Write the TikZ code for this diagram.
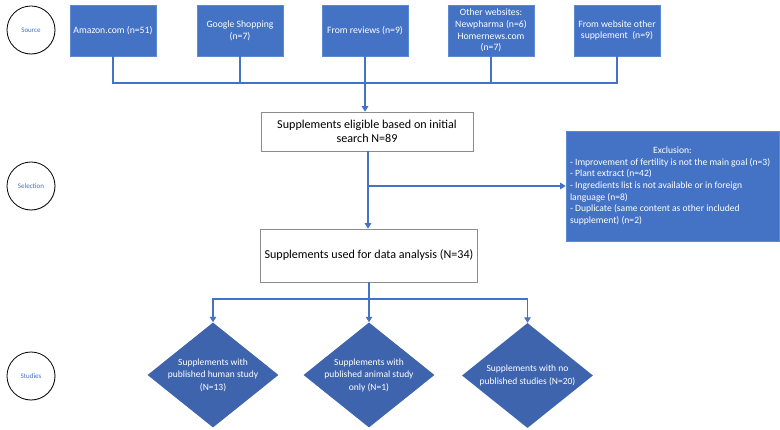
\documentclass[tikz,border=0pt]{standalone}
\usepackage{fontspec}
\setmainfont{Carlito}
\usetikzlibrary{arrows.meta,shapes.geometric,shadows}
\definecolor{obl}{HTML}{4472C4}
\definecolor{obd}{HTML}{3E64AE}
\definecolor{obe}{HTML}{5A8AD2}
\begin{document}
\begin{tikzpicture}[x=1pt,y=-1pt,
  stage/.style={circle,draw=black,line width=0.8pt,fill=white,minimum size=48pt,inner sep=0pt,
    text=obl,font=\fontsize{7}{8}\selectfont,
    drop shadow={opacity=0.25,shadow xshift=0.6pt,shadow yshift=-0.8pt}},
  srcbox/.style={rectangle,draw=obe,line width=0.6pt,fill=obl,text=white,minimum width=86pt,minimum height=51pt,
    align=center,inner sep=1pt,font=\fontsize{9.7}{11.7}\selectfont},
  wbox/.style={rectangle,draw=black!45,line width=0.6pt,fill=white,align=center,inner sep=1pt,
    font=\fontsize{12.1}{14}\selectfont},
  dia/.style={diamond,fill=obd,inner sep=0pt,minimum width=131pt,minimum height=105pt},
  dlab/.style={text=white,align=center,font=\fontsize{9.5}{12.5}\selectfont},
  conn/.style={draw=obl,line width=1.1pt},
  arr/.style={conn,-{Triangle[width=6.5pt,length=5.5pt]}}]
\useasboundingbox (0,0) rectangle (780,430);
% stage circles
\node[stage] (source) at (31,30) {Source};
\node[stage] (selection) at (31,186) {Selection};
\node[stage] (studies) at (31,376) {Studies};
% source boxes
\node[srcbox] (s1) at (113,30.5) {Amazon.com (n=51)};
\node[srcbox] (s2) at (240,30.5) {Google Shopping\\(n=7)};
\node[srcbox] (s3) at (365,30.5) {From reviews (n=9)};
\node[srcbox] (s4) at (491,30.5) {Other websites:\\Newpharma (n=6)\\Homernews.com\\(n=7)};
\node[srcbox] (s5) at (617,30.5) {From website other\\supplement\ \ (n=9)};
% main boxes
\node[wbox,minimum width=212pt,minimum height=39pt] (elig) at (367,131.5) {Supplements eligible based on initial\\search N=89};
\node[wbox,minimum width=217pt,minimum height=53pt] (anal) at (369,255.5) {Supplements used for data analysis (N=34)};
\node[rectangle,draw=obe,line width=0.6pt,fill=obl,text=white,minimum width=213pt,minimum height=110pt,
  inner sep=3pt,font=\fontsize{9.6}{11.7}\selectfont] (excl) at (672.5,186)
  {\begin{minipage}{205pt}\centering Exclusion:\par\raggedright
  - Improvement of fertility is not the main goal (n=3)\par
  - Plant extract (n=42)\par
  - Ingredients list is not available or in foreign language (n=8)\par
  - Duplicate (same content as other included supplement) (n=2)\end{minipage}};
% diamonds
\node[dia,label={[dlab]center:Supplements with\\published human study\\(N=13)}] (d1) at (213,375) {};
\node[dia,label={[dlab]center:Supplements with\\published animal study\\only (N=1)}] (d2) at (369,375) {};
\node[dia,label={[dlab]center:Supplements with no\\published studies (N=20)}] (d3) at (527.5,375.5) {};
% connectors: sources
\coordinate (jn) at (365,83);
\draw[conn] (s1.south) |- (jn);
\draw[conn] (s2.south) |- (jn);
\draw[conn] (s4.south) |- (jn);
\draw[conn] (s5.south) |- (jn);
\draw[arr] (s3.south) -- (s3.south |- elig.north);
% selection
\coordinate (bx) at (368,186);
\draw[arr] (elig.south -| bx) -- (bx |- anal.north);
\draw[arr] (bx) -- (excl.west);
% studies
\coordinate (bs) at (369,299);
\draw[conn] (anal.south) -- (bs);
\draw[arr] (bs) -| (d1.north);
\draw[arr] (bs) -- (d2.north);
\draw[arr] (bs) -| (d3.north);
\end{tikzpicture}
\end{document}
